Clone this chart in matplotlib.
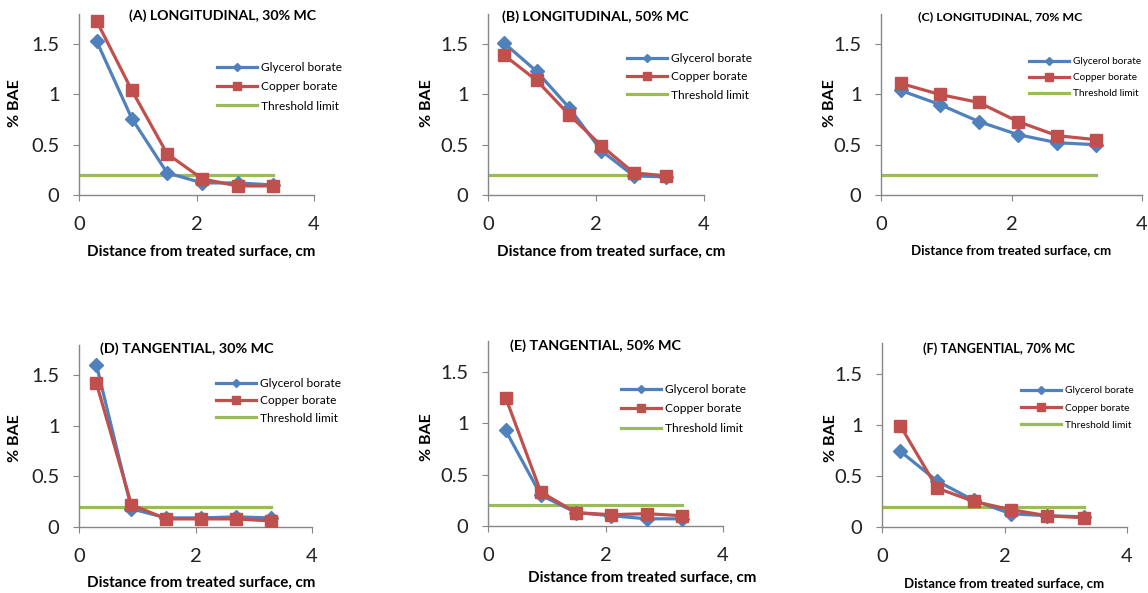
import matplotlib
matplotlib.use('Agg')
import matplotlib.pyplot as plt
from matplotlib.lines import Line2D

W, H = 1148, 593

# distance of each sampled slice from the treated surface (cm)
distance = [0.3, 0.9, 1.5, 2.1, 2.7, 3.3]
threshold_x = [0, 3.3]
threshold_y = [0.2, 0.2]

titles = ['(A) LONGITUDINAL, 30% MC', '(B) LONGITUDINAL, 50% MC', '(C) LONGITUDINAL, 70% MC',
          '(D) TANGENTIAL, 30% MC', '(E) TANGENTIAL, 50% MC', '(F) TANGENTIAL, 70% MC']

glycerol_a = [1.53, 0.76, 0.22, 0.12, 0.12, 0.10]
copper_a = [1.73, 1.04, 0.41, 0.16, 0.09, 0.09]
glycerol_b = [1.51, 1.23, 0.87, 0.44, 0.19, 0.18]
copper_b = [1.39, 1.14, 0.80, 0.49, 0.22, 0.19]
glycerol_c = [1.04, 0.90, 0.73, 0.60, 0.52, 0.50]
copper_c = [1.11, 1.00, 0.92, 0.73, 0.59, 0.55]
glycerol_d = [1.60, 0.18, 0.09, 0.09, 0.10, 0.09]
copper_d = [1.42, 0.22, 0.08, 0.08, 0.08, 0.06]
glycerol_e = [0.93, 0.30, 0.13, 0.10, 0.07, 0.07]
copper_e = [1.25, 0.33, 0.13, 0.11, 0.12, 0.10]
glycerol_f = [0.74, 0.45, 0.26, 0.13, 0.11, 0.10]
copper_f = [0.99, 0.38, 0.25, 0.17, 0.11, 0.09]

glycerol = [glycerol_a, glycerol_b, glycerol_c, glycerol_d, glycerol_e, glycerol_f]
copper = [copper_a, copper_b, copper_c, copper_d, copper_e, copper_f]

BLUE, RED, GREEN = '#4F81BD', '#C0504D', '#9BBB59'
GREY = '#868686'

# each chart was pasted separately, so every panel has its own box (pixels)
# box: left, right, bottom, top; title: cx, cy, size; ylab: x, y; xlab: cx, cy, size;
# legend: x of handle start, y of middle row, size, row pitch
panels = [
    dict(box=(79, 314, 195, 14), title=(223, 16, 10.2), ylab=(15, 103), xlab=(201, 252, 10.9),
         leg=(217, 87, 8.6, 20)),
    dict(box=(488, 704, 195, 14), title=(595, 17, 10.2), ylab=(427, 103), xlab=(611, 252, 10.9),
         leg=(627, 77, 8.6, 19)),
    dict(box=(881, 1142, 195, 14), title=(1000, 17, 8.9), ylab=(830, 103), xlab=(1011, 250, 9.5),
         leg=(1029, 78, 7.2, 17)),
    dict(box=(79, 312, 527, 345), title=(187, 349, 10.4), ylab=(15, 438), xlab=(201, 583, 10.9),
         leg=(216, 401, 8.6, 18)),
    dict(box=(488, 723, 526, 341), title=(595, 346, 10.4), ylab=(427, 437), xlab=(642, 578, 10.9),
         leg=(621, 409, 8.6, 20.5)),
    dict(box=(882, 1127, 527, 343), title=(999, 349, 9.2), ylab=(831, 438), xlab=(1004, 583, 9.5),
         leg=(1021, 408, 7.3, 18.5)),
]

plt.rcParams['font.family'] = ['Lato', 'DejaVu Sans']

fig = plt.figure(figsize=(W / 100, H / 100), dpi=100)


def fx(x):
    return x / W


def fy(y):
    return 1 - y / H


for i, p in enumerate(panels):
    l, r, b, t = p['box']
    ax = fig.add_axes([fx(l), fy(b), (r - l) / W, (b - t) / H])
    ax.plot(distance, glycerol[i], color=BLUE, lw=2.3, marker='D', ms=7,
            label='Glycerol borate', zorder=3)
    ax.plot(distance, copper[i], color=RED, lw=2.3, marker='s', ms=8.5,
            label='Copper borate', zorder=4)
    ax.plot(threshold_x, threshold_y, color=GREEN, lw=2.3, label='Threshold limit', zorder=2)

    ax.set_xlim(0, 4)
    ax.set_ylim(0, 1.8)
    ax.set_xticks([0, 2, 4])
    ax.set_xticklabels(['0', '2', '4'])
    ax.set_yticks([0, 0.5, 1, 1.5])
    ax.set_yticklabels(['0', '0.5', '1', '1.5'])
    for s in ['top', 'right']:
        ax.spines[s].set_visible(False)
    for s in ['left', 'bottom']:
        ax.spines[s].set_color(GREY)
        ax.spines[s].set_linewidth(1)
    ax.tick_params(axis='both', direction='out', length=4, color=GREY, labelsize=14.5,
                   labelcolor='#222222')
    ax.tick_params(axis='x', pad=11)
    ax.tick_params(axis='y', pad=10)
    ax.patch.set_alpha(0)

    tx, ty, ts = p['title']
    fig.text(fx(tx), fy(ty), titles[i], ha='center', va='center', fontsize=ts,
             fontweight='bold')
    yx, yy = p['ylab']
    fig.text(fx(yx), fy(yy), '% BAE', rotation=90, ha='center', va='center',
             fontsize=11.5, fontweight='bold')
    xx, xy, xs = p['xlab']
    fig.text(fx(xx), fy(xy), 'Distance from treated surface, cm', ha='center',
             va='center', fontsize=xs, fontweight='bold')

    lx, ly, ls, pitch = p['leg']
    fs_px = ls * 100 / 72
    handles = [
        Line2D([], [], color=BLUE, lw=2.3, marker='D', ms=4),
        Line2D([], [], color=RED, lw=2.3, marker='s', ms=6),
        Line2D([], [], color=GREEN, lw=2.3),
    ]
    ax.legend(handles, ['Glycerol borate', 'Copper borate', 'Threshold limit'],
              loc='center left', bbox_to_anchor=(fx(lx), fy(ly)),
              bbox_transform=fig.transFigure, frameon=False, borderpad=0,
              borderaxespad=0, fontsize=ls, handlelength=40 / fs_px,
              handletextpad=4 / fs_px, labelspacing=(pitch - fs_px * 1.0) / fs_px,
              markerscale=1)

fig.savefig('out.png', dpi=100)
